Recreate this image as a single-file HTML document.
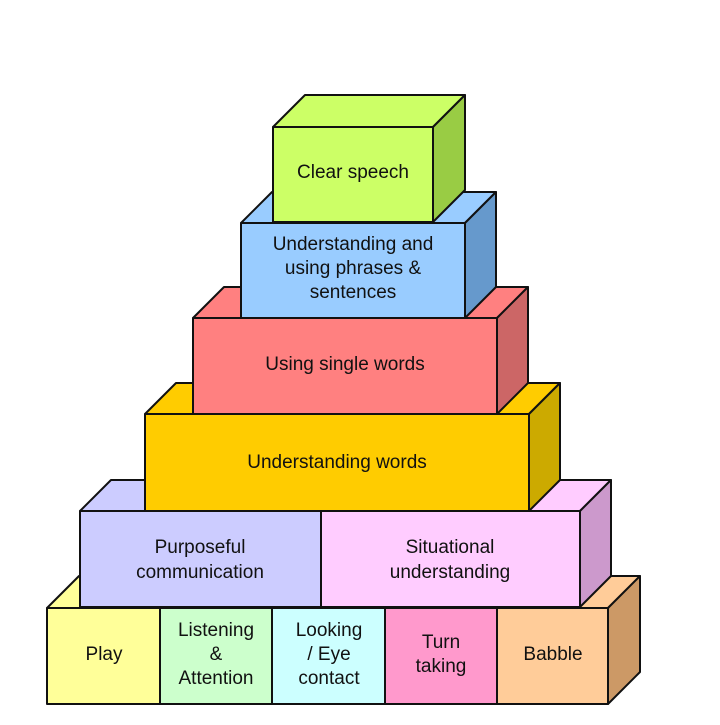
<!DOCTYPE html>
<html><head><meta charset="utf-8"><style>
html,body{margin:0;padding:0;background:#fff;width:720px;height:725px;overflow:hidden}
text{font-family:"Liberation Sans",Arial,sans-serif;font-size:19px;fill:#111;text-anchor:middle}
</style></head><body>
<svg width="720" height="725" viewBox="0 0 720 725" xmlns="http://www.w3.org/2000/svg">
<g stroke="#111" stroke-width="2" stroke-linejoin="round">
<polygon points="47,608 79,576 192,576 160,608" fill="#ffff99"/>
<polygon points="160,608 192,576 304,576 272,608" fill="#ccffcc"/>
<polygon points="272,608 304,576 417,576 385,608" fill="#ccffff"/>
<polygon points="385,608 417,576 529,576 497,608" fill="#ff99cc"/>
<polygon points="497,608 529,576 640,576 608,608" fill="#ffcc99"/>
<polygon points="608,608 640,576 640,672 608,704" fill="#cc9966"/>
<rect x="47" y="608" width="113" height="96" fill="#ffff99"/>
<rect x="160" y="608" width="112" height="96" fill="#ccffcc"/>
<rect x="272" y="608" width="113" height="96" fill="#ccffff"/>
<rect x="385" y="608" width="112" height="96" fill="#ff99cc"/>
<rect x="497" y="608" width="111" height="96" fill="#ffcc99"/>
<polygon points="80,511 111,480 352,480 321,511" fill="#ccccff"/>
<polygon points="321,511 352,480 611,480 580,511" fill="#ffccff"/>
<polygon points="580,511 611,480 611,576 580,607" fill="#cc99cc"/>
<rect x="80" y="511" width="241" height="96" fill="#ccccff"/>
<rect x="321" y="511" width="259" height="96" fill="#ffccff"/>
<polygon points="145,414 176,383 560,383 529,414" fill="#ffcc00"/>
<polygon points="529,414 560,383 560,480 529,511" fill="#ccaa00"/>
<rect x="145" y="414" width="384" height="97" fill="#ffcc00"/>
<polygon points="193,318 224,287 528,287 497,318" fill="#ff8080"/>
<polygon points="497,318 528,287 528,383 497,414" fill="#cc6666"/>
<rect x="193" y="318" width="304" height="96" fill="#ff8080"/>
<polygon points="241,223 272,192 496,192 465,223" fill="#99ccff"/>
<polygon points="465,223 496,192 496,287 465,318" fill="#6699cc"/>
<rect x="241" y="223" width="224" height="95" fill="#99ccff"/>
<polygon points="273,127 305,95 465,95 433,127" fill="#ccff66"/>
<polygon points="433,127 465,95 465,190 433,222" fill="#99cc44"/>
<rect x="273" y="127" width="160" height="95" fill="#ccff66"/>
</g>
<text x="353" y="178">Clear speech</text>
<text x="353" y="250">Understanding and</text>
<text x="353" y="274">using phrases &amp;</text>
<text x="353" y="298">sentences</text>
<text x="345" y="370">Using single words</text>
<text x="337" y="468">Understanding words</text>
<text x="200" y="553">Purposeful</text>
<text x="200" y="578">communication</text>
<text x="450" y="553">Situational</text>
<text x="450" y="578">understanding</text>
<text x="104" y="660">Play</text>
<text x="216" y="636">Listening</text>
<text x="216" y="660">&amp;</text>
<text x="216" y="684">Attention</text>
<text x="329" y="636">Looking</text>
<text x="329" y="660">/ Eye</text>
<text x="329" y="684">contact</text>
<text x="441" y="648">Turn</text>
<text x="441" y="672">taking</text>
<text x="553" y="660">Babble</text>
</svg>
</body></html>
